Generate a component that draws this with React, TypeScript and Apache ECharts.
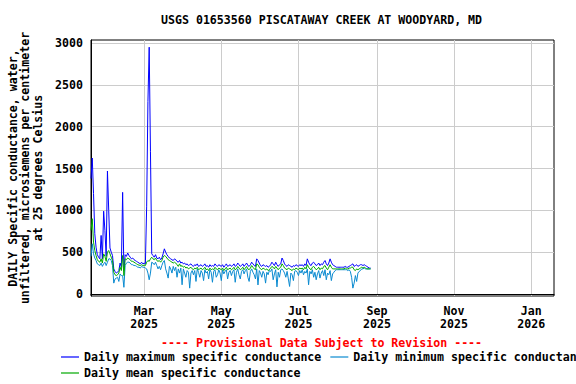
import React, { useEffect, useRef } from "react";
import * as echarts from "echarts";

const TITLE = "USGS 01653560 PISCATAWAY CREEK AT WOODYARD, MD";
const PROVISIONAL = "---- Provisional Data Subject to Revision ----";
const Y_NAME = "DAILY Specific conductance, water,\nunfiltered, microsiemens per centimeter\nat 25 degrees Celsius";
const SERIES_NAMES = [
  "Daily maximum specific conductance",
  "Daily minimum specific conductance",
  "Daily mean specific conductance",
];
const MONTHS = ["Jan", "Feb", "Mar", "Apr", "May", "Jun", "Jul", "Aug", "Sep", "Oct", "Nov", "Dec"];

// first day of data: 2025-01-18, one value per day
const START = [2025, 0, 18];
const X_MIN = [2025, 0, 18];
const X_MAX = [2026, 0, 19];
const X_TICKS = [
  [2025, 2, 1],
  [2025, 4, 1],
  [2025, 6, 1],
  [2025, 8, 1],
  [2025, 10, 1],
  [2026, 0, 1],
];
const Y_TICKS = [0, 500, 1000, 1500, 2000, 2500, 3000];

const dailyMax = [
  1380, 1625, 1200, 720, 560, 470, 440, 420, 700, 420,
  990, 760, 450, 1470, 1000, 550, 500, 460, 300, 270,
  250, 260, 280, 370, 320, 1215, 280, 470, 450, 490,
  460, 440, 420, 430, 410, 400, 390, 380, 370, 360,
  380, 360, 370, 360, 1050, 2300, 2950, 1700, 480, 460,
  440, 470, 430, 420, 440, 410, 430, 480, 540, 500,
  470, 450, 430, 420, 410, 400, 420, 410, 390, 380,
  400, 370, 380, 360, 370, 350, 360, 340, 350, 360,
  340, 330, 350, 340, 360, 330, 340, 350, 330, 340,
  360, 330, 340, 320, 350, 330, 340, 330, 360, 340,
  330, 350, 340, 330, 350, 320, 340, 360, 330, 340,
  350, 330, 340, 360, 330, 340, 370, 350, 330, 340,
  360, 330, 350, 370, 340, 330, 350, 380, 360, 340,
  330, 420, 400, 370, 340, 330, 350, 340, 330, 340,
  320, 330, 350, 380, 360, 340, 380, 350, 330, 350,
  360, 430, 400, 360, 340, 330, 350, 340, 330, 320,
  340, 330, 350, 340, 330, 350, 340, 350, 330, 360,
  340, 420, 380, 350, 340, 370, 380, 360, 340, 350,
  370, 340, 360, 350, 380, 400, 360, 340, 370, 420,
  380, 350, 340, 330, 320, 320, 320, 320, 320, 320,
  320, 330, 320, 320, 330, 340, 350, 360, 330, 340,
  350, 330, 340, 350, 350, 340, 350, 340, 330, 320,
  310, 310,
];

const dailyMin = [
  450, 600, 480, 430, 400, 360, 350, 340, 370, 330,
  360, 380, 340, 380, 420, 420, 400, 340, 130, 180,
  190, 200, 150, 240, 220, 220, 80, 340, 370, 380,
  380, 370, 350, 350, 340, 340, 330, 320, 320, 310,
  330, 320, 320, 310, 300, 250, 170, 250, 380, 370,
  350, 380, 340, 300, 330, 290, 340, 380, 400, 300,
  250, 190, 330, 300, 250, 330, 280, 320, 200, 300,
  250, 310, 110, 300, 250, 200, 280, 260, 70, 250,
  280, 230, 280, 150, 300, 260, 200, 280, 250, 160,
  290, 250, 270, 180, 290, 260, 140, 270, 290, 200,
  230, 290, 250, 160, 290, 240, 270, 290, 180, 260,
  280, 220, 270, 290, 140, 260, 300, 230, 180, 270,
  290, 240, 280, 300, 200, 150, 270, 300, 260, 230,
  180, 300, 108, 280, 250, 200, 270, 240, 130, 260,
  230, 280, 270, 300, 170, 240, 290, 85, 260, 200,
  290, 300, 280, 250, 200, 270, 180, 90, 250, 230,
  160, 270, 280, 260, 220, 280, 250, 290, 230, 270,
  250, 300, 110, 270, 240, 290, 200, 260, 170, 240,
  280, 190, 250, 280, 220, 290, 170, 250, 230, 280,
  160, 240, 260, 280, 290, 290, 290, 290, 290, 290,
  290, 290, 290, 280, 290, 270, 200, 70, 130, 220,
  150, 250, 270, 280, 300, 300, 310, 300, 300, 300,
  300, 300,
];

const dailyMean = [
  760, 900, 620, 520, 460, 410, 390, 380, 420, 370,
  480, 450, 390, 500, 520, 480, 440, 400, 260, 230,
  220, 230, 250, 320, 280, 460, 220, 420, 410, 430,
  420, 410, 390, 390, 380, 370, 360, 350, 345, 340,
  350, 340, 345, 340, 380, 400, 390, 420, 440, 420,
  410, 430, 400, 390, 400, 380, 400, 440, 460, 450,
  430, 410, 400, 390, 380, 370, 380, 370, 350, 330,
  360, 330, 340, 320, 330, 310, 320, 300, 310, 320,
  300, 290, 310, 300, 320, 290, 300, 310, 290, 300,
  320, 290, 300, 280, 310, 290, 300, 290, 320, 300,
  290, 310, 300, 290, 310, 280, 300, 320, 290, 300,
  310, 290, 300, 320, 290, 300, 330, 310, 290, 300,
  320, 290, 310, 330, 300, 290, 310, 340, 320, 300,
  290, 360, 350, 320, 300, 290, 310, 300, 290, 300,
  280, 290, 310, 330, 320, 300, 330, 310, 290, 310,
  320, 360, 340, 310, 300, 290, 310, 300, 290, 280,
  300, 290, 310, 300, 290, 310, 300, 310, 290, 320,
  300, 350, 320, 300, 290, 320, 330, 310, 290, 300,
  320, 290, 310, 300, 330, 340, 310, 290, 320, 350,
  320, 300, 300, 300, 300, 300, 300, 300, 300, 300,
  300, 310, 300, 300, 310, 310, 320, 320, 290, 280,
  300, 290, 300, 310, 320, 310, 320, 310, 300, 300,
  300, 300,
];

const ts = (d: number[]) => new Date(d[0], d[1], d[2]).getTime();
const pairs = (vals: number[]) =>
  vals.map((v, i) => [new Date(START[0], START[1], START[2] + i).getTime(), v]);

const FONT = "DejaVu Sans Mono";
const FS = 11.6;
const LINE_ICON = "path://M0,0 L18,0 L18,1.2 L0,1.2 Z";

export default function App() {
  const ref = useRef<HTMLDivElement>(null);
  useEffect(() => {
    if (!ref.current) return;
    const chart = echarts.init(ref.current, undefined, { renderer: "svg" });
    const colors = ["#0000ff", "#0a8ad0", "#00a800"];
    const vals = [dailyMax, dailyMin, dailyMean];
    const legendText = { fontFamily: FONT, fontSize: FS, fontWeight: "bold", color: "#000" };
    chart.setOption({
      animation: false,
      backgroundColor: "#ffffff",
      title: [
        {
          text: TITLE,
          left: 161,
          top: 14,
          padding: 0,
          textStyle: { fontFamily: FONT, fontSize: FS, fontWeight: "bold", color: "#000" },
        },
        {
          text: PROVISIONAL,
          left: 161,
          top: 337,
          padding: 0,
          textStyle: { fontFamily: FONT, fontSize: FS, fontWeight: "bold", color: "#ff0000" },
        },
      ],
      legend: [
        {
          data: [SERIES_NAMES[0], SERIES_NAMES[1]],
          left: 61,
          top: 351,
          width: 1200,
          padding: 0,
          icon: LINE_ICON,
          itemWidth: 18,
          itemHeight: 1.2,
          itemGap: 9,
          selectedMode: false,
          textStyle: legendText,
        },
        {
          data: [SERIES_NAMES[2]],
          left: 61,
          top: 367,
          padding: 0,
          icon: LINE_ICON,
          itemWidth: 18,
          itemHeight: 1.2,
          selectedMode: false,
          textStyle: legendText,
        },
      ],
      grid: {
        left: 91,
        top: 40,
        right: 22,
        bottom: 88,
        outerBoundsMode: "none",
        containLabel: false,
        show: true,
        borderColor: "#000",
        borderWidth: 1,
        backgroundColor: "transparent",
      },
      xAxis: {
        type: "value",
        min: ts(X_MIN),
        max: ts(X_MAX),
        axisLine: { show: true, lineStyle: { color: "#000", width: 1 } },
        axisTick: { show: false, customValues: X_TICKS.map(ts) },
        splitLine: { show: true, lineStyle: { color: "#cccccc", width: 1 } },
        axisLabel: {
          customValues: X_TICKS.map(ts),
          margin: 8,
          fontFamily: FONT,
          fontSize: FS,
          fontWeight: "bold",
          color: "#000",
          lineHeight: 13,
          formatter: (v: number) => {
            const d = new Date(v);
            return MONTHS[d.getMonth()] + "\n" + d.getFullYear();
          },
        },
      },
      yAxis: {
        type: "value",
        min: -24,
        max: 3036,
        name: Y_NAME,
        nameLocation: "middle",
        nameRotate: 90,
        nameGap: 42,
        nameTextStyle: {
          fontFamily: FONT,
          fontSize: FS,
          fontWeight: "bold",
          color: "#000",
          lineHeight: 12.5,
          align: "center",
        },
        axisLine: { show: true, lineStyle: { color: "#000", width: 1 } },
        axisTick: { show: false, customValues: Y_TICKS },
        splitLine: { show: true, lineStyle: { color: "#cccccc", width: 1 } },
        axisLabel: {
          customValues: Y_TICKS,
          margin: 8,
          fontFamily: FONT,
          fontSize: FS,
          fontWeight: "bold",
          color: "#000",
          formatter: (v: number) => String(v),
        },
      },
      series: SERIES_NAMES.map((name, k) => ({
        name,
        type: "line",
        data: pairs(vals[k]),
        symbol: "none",
        showSymbol: false,
        color: colors[k],
        lineStyle: { color: colors[k], width: 1 },
        z: 2 + k,
      })),
    });
    return () => chart.dispose();
  }, []);
  return (
    <div
      ref={ref}
      style={{ position: "fixed", left: 0, top: 0, width: 576, height: 384 }}
    />
  );
}
